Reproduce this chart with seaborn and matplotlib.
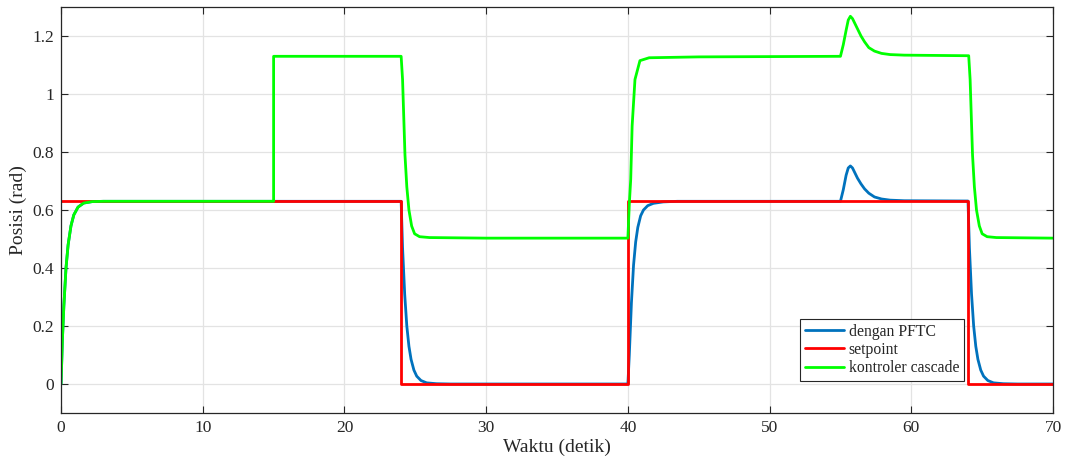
import matplotlib
matplotlib.use("Agg")
import matplotlib.pyplot as plt
import seaborn as sns
import pandas as pd
from matplotlib.ticker import FuncFormatter

# ---- data ----
setpoint_t = [0, 24, 24, 40, 40, 64, 64, 70]
setpoint_v = [0.63, 0.63, 0.0, 0.0, 0.63, 0.63, 0.0, 0.0]

pftc_t = [0, 0.1, 0.2, 0.35, 0.5, 0.7, 0.9, 1.2, 1.6, 2.2, 3,
          24, 24.1, 24.25, 24.4, 24.55, 24.7, 24.9, 25.1, 25.4, 25.8, 26.5, 27.5,
          40, 40.1, 40.25, 40.4, 40.55, 40.7, 40.9, 41.1, 41.4, 41.8, 42.5, 43.5,
          55.0, 55.2, 55.4, 55.55, 55.7, 55.85, 56.0, 56.2, 56.45, 56.7, 57.0, 57.4, 57.9, 58.5, 59.5,
          64, 64.1, 64.25, 64.4, 64.55, 64.7, 64.9, 65.1, 65.4, 65.8, 66.5, 67.5, 70]
pftc_v = [0, 0.157, 0.27, 0.40, 0.48, 0.545, 0.583, 0.61, 0.624, 0.629, 0.63,
          0.63, 0.47, 0.31, 0.20, 0.13, 0.085, 0.048, 0.027, 0.012, 0.004, 0.001, 0.0,
          0.0, 0.10, 0.28, 0.41, 0.49, 0.54, 0.58, 0.60, 0.615, 0.623, 0.628, 0.63,
          0.63, 0.67, 0.72, 0.745, 0.752, 0.745, 0.73, 0.71, 0.69, 0.673, 0.658, 0.645, 0.638, 0.634, 0.632,
          0.631, 0.47, 0.31, 0.20, 0.13, 0.085, 0.048, 0.027, 0.012, 0.004, 0.001, 0.0, 0.0]

cascade_t = [0, 0.1, 0.2, 0.35, 0.5, 0.7, 0.9, 1.2, 1.6, 2.2, 3,
             15, 15.001, 24, 24.1, 24.27, 24.4, 24.55, 24.74, 24.95, 25.3, 26, 30,
             40, 40.1, 40.2, 40.3, 40.5, 40.85, 41.5, 45,
             55.0, 55.2, 55.4, 55.55, 55.7, 55.85, 56.0, 56.2, 56.45, 56.7, 57.0, 57.4, 57.9, 58.5, 59.5,
             64.05, 64.15, 64.32, 64.45, 64.6, 64.8, 65.0, 65.35, 66, 70]
cascade_v = [0, 0.157, 0.27, 0.40, 0.48, 0.545, 0.583, 0.61, 0.624, 0.629, 0.63,
             0.63, 1.13, 1.13, 1.05, 0.79, 0.68, 0.60, 0.545, 0.518, 0.508, 0.505, 0.503,
             0.503, 0.62, 0.706, 0.89, 1.05, 1.115, 1.125, 1.128,
             1.13, 1.17, 1.22, 1.255, 1.268, 1.26, 1.245, 1.225, 1.20, 1.18, 1.16, 1.148, 1.14, 1.136, 1.134,
             1.132, 1.05, 0.79, 0.68, 0.60, 0.545, 0.518, 0.508, 0.505, 0.503]

labels = ["dengan PFTC", "setpoint", "kontroler cascade"]
colors = ["#0072BD", "#FF0000", "#00FF00"]

x_ticks = [0, 10, 20, 30, 40, 50, 60, 70]
y_ticks = [0, 0.2, 0.4, 0.6, 0.8, 1.0, 1.2]

# ---- build long-form table ----
frames = []
for lab, t, v in zip(labels, [pftc_t, setpoint_t, cascade_t], [pftc_v, setpoint_v, cascade_v]):
    frames.append(pd.DataFrame({"t": t, "v": v, "series": lab}))
df = pd.concat(frames, ignore_index=True)

sns.set_style("ticks")
plt.rcParams["font.family"] = ["Liberation Serif", "DejaVu Serif"]

fig = plt.figure(figsize=(10.67, 4.61), dpi=100)
ax = fig.add_axes([0.0572, 0.1041, 0.9297, 0.8807])

sns.lineplot(data=df, x="t", y="v", hue="series", hue_order=labels,
             palette=dict(zip(labels, colors)), estimator=None, sort=False,
             linewidth=2.0, ax=ax)

ax.set_xlim(0, 70)
ax.set_ylim(-0.1, 1.3)
ax.set_xticks(x_ticks)
ax.set_yticks(y_ticks)
ax.yaxis.set_major_formatter(FuncFormatter(lambda v, p: "%g" % v))
ax.xaxis.set_major_formatter(FuncFormatter(lambda v, p: "%g" % v))

ax.grid(True, color="#e3e3e3", linewidth=0.9)
ax.set_axisbelow(True)
for s in ax.spines.values():
    s.set_visible(True)
    s.set_color("#262626")
    s.set_linewidth(0.9)
ax.tick_params(direction="in", length=5, width=0.8, colors="#262626",
               labelsize=12.5, top=True, right=True, pad=5)
for lab in ax.get_xticklabels() + ax.get_yticklabels():
    lab.set_color("#262626")

ax.set_xlabel("Waktu (detik)", fontsize=14, color="#262626", labelpad=2)
ax.set_ylabel("Posisi (rad)", fontsize=14, color="#262626", labelpad=4)

leg = ax.legend(loc="lower right", bbox_to_anchor=(0.910, 0.079), fontsize=11.3,
                frameon=True, fancybox=False, edgecolor="#262626", framealpha=1,
                handlelength=2.5, handletextpad=0.3, labelspacing=0.15,
                borderpad=0.3, borderaxespad=0)
leg.get_frame().set_linewidth(0.8)
for h in leg.get_lines():
    h.set_linewidth(2.0)

fig.savefig("out.png", dpi=100)
